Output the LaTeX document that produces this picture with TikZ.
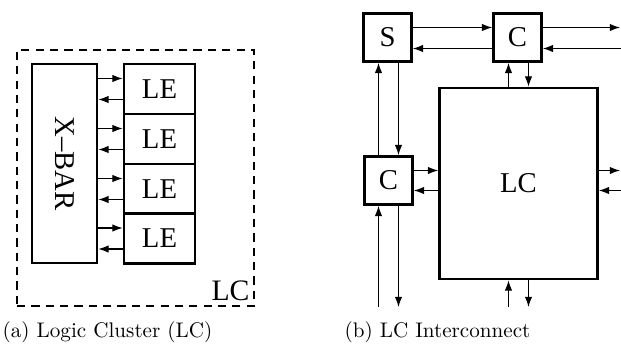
\documentclass[tikz,border=0pt]{standalone}
\usepackage{fontspec}
\newfontfamily\timesfont{Liberation Serif}
\usetikzlibrary{arrows.meta,calc}
\tikzset{
  blk/.style={draw=black,line width=1.3pt,fill=white,inner sep=0pt,
    font=\timesfont\fontsize{14}{16}\selectfont},
  arr/.style={line width=0.5pt,-{Latex[length=5pt,width=3.6pt]}},
  frame/.style={draw=black,line width=0.6pt,dash pattern=on 4pt off 3pt,inner sep=0pt},
  captxt/.style={font=\fontsize{10.3}{12}\selectfont,inner sep=0pt}
}
\begin{document}
\begin{tikzpicture}[x=0.4878pt,y=-0.4878pt]
\useasboundingbox (0,0) rectangle (621,353);
% ---------- (a) Logic cluster
\node[frame,minimum width=237*0.4878pt,minimum height=256*0.4878pt] (frm) at (135.5,178) {};
\node[blk,minimum width=65*0.4878pt,minimum height=199*0.4878pt] (xbar) at (64.5,163.5) {\rotatebox{-90}{X–BAR}};
\foreach \i/\yy in {1/89,2/139,3/189,4/238.5}{
  \node[blk,minimum width=71*0.4878pt,minimum height=49.75*0.4878pt] (le\i) at (159.5,\yy) {LE};
}
\foreach \i in {1,2,3,4}{
  \coordinate (ai\i) at ($(le\i.west)+(0,-10.5)$);
  \coordinate (ao\i) at ($(le\i.west)+(0,10.5)$);
  \draw[arr] (xbar.east |- ai\i) -- (ai\i);
  \draw[arr] (ao\i) -- (xbar.east |- ao\i);
}
\node[font=\timesfont\fontsize{14.5}{16}\selectfont,inner sep=0pt] (lclab) at (230.5,291) {LC};
% ---------- (b) LC interconnect
\node[blk,minimum width=48*0.4878pt,minimum height=48*0.4878pt] (s) at (387.5,37.5) {S};
\node[blk,minimum width=48*0.4878pt,minimum height=48*0.4878pt] (ct) at (517.5,37.5) {C};
\node[blk,minimum width=48*0.4878pt,minimum height=48*0.4878pt] (cl) at (388.5,180.5) {C};
\node[blk,minimum width=158*0.4878pt,minimum height=191*0.4878pt] (lc) at (518.5,183.5) {LC};
% S <-> top C
\coordinate (p1) at ($(s.east)+(0,-10)$);
\coordinate (p2) at ($(s.east)+(0,11)$);
\draw[arr] (p1) -- (ct.west |- p1);
\draw[arr] (ct.west |- p2) -- (p2);
% top C <-> right edge
\coordinate (r1) at (620,27.5);
\coordinate (r2) at (621,48.5);
\draw[arr] (ct.east |- r1) -- (r1);
\draw[arr] (r2) -- (ct.east |- r2);
% S <-> left C
\coordinate (v1) at ($(s.south)+(-9,0)$);
\coordinate (v2) at ($(s.south)+(11,0)$);
\draw[arr] (cl.north -| v1) -- (v1);
\draw[arr] (v2) -- (cl.north -| v2);
% top C <-> LC
\coordinate (w1) at ($(ct.south)+(-9,0)$);
\coordinate (w2) at ($(ct.south)+(11,0)$);
\draw[arr] (lc.north -| w1) -- (w1);
\draw[arr] (w2) -- (lc.north -| w2);
% left C <-> LC
\coordinate (h1) at ($(cl.east)+(0,-10)$);
\coordinate (h2) at ($(cl.east)+(0,10)$);
\draw[arr] (h1) -- (lc.west |- h1);
\draw[arr] (lc.west |- h2) -- (h2);
% LC <-> right edge
\coordinate (e1) at (620,170.5);
\coordinate (e2) at (621,190.5);
\draw[arr] (lc.east |- e1) -- (e1);
\draw[arr] (e2) -- (lc.east |- e2);
% left C <-> bottom
\coordinate (b1) at ($(cl.south)+(-10,0)$);
\coordinate (b2) at ($(cl.south)+(10,0)$);
\coordinate (b1e) at (b1 |- 0,307);
\coordinate (b2e) at (b2 |- 0,307);
\draw[arr] (b1e) -- (b1);
\draw[arr] (b2) -- (b2e);
% LC <-> bottom
\coordinate (d1) at ($(lc.south)+(-10,0)$);
\coordinate (d2) at ($(lc.south)+(10,0)$);
\coordinate (d1e) at (d1 |- 0,307);
\coordinate (d2e) at (d2 |- 0,307);
\draw[arr] (d1e) -- (d1);
\draw[arr] (d2) -- (d2e);
% ---------- captions
\node[captxt] (capa) at (107.5,332) {(a) Logic Cluster (LC)};
\node[captxt] (capb) at (437.5,332) {(b) LC Interconnect};
\end{tikzpicture}
\end{document}
